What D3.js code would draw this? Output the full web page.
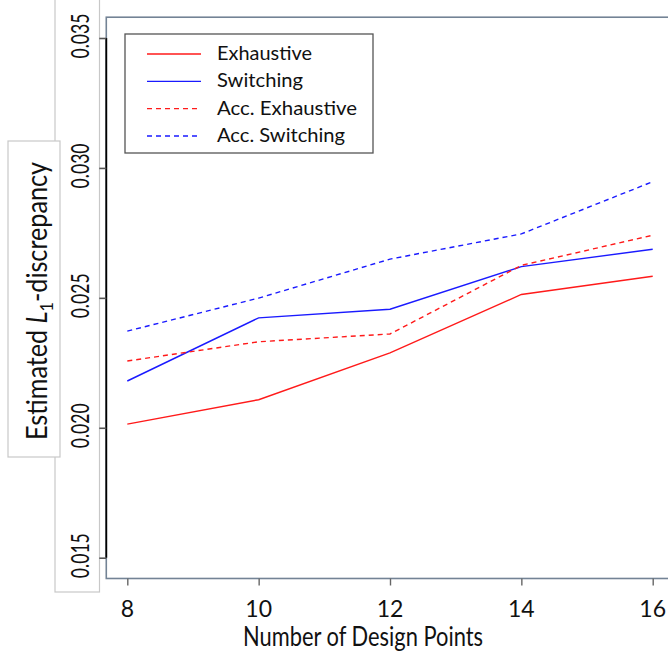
<!DOCTYPE html>
<html>
<head>
<meta charset="utf-8">
<script src="https://cdn.jsdelivr.net/npm/d3@7"></script>
<style>
  html, body { margin: 0; padding: 0; background: #fff; }
  svg { display: block; font-family: Lato, "Open Sans", sans-serif; }
</style>
</head>
<body>
<svg id="chart" width="668" height="656"></svg>
<script>
// Design-point counts on the x axis
const designPoints = [8, 10, 12, 14, 16];

// Estimated L1-discrepancy per method
const exhaustive    = [0.02014, 0.02108, 0.02288, 0.02513, 0.02583];
const switching     = [0.02180, 0.02423, 0.02456, 0.02620, 0.02687];
const accExhaustive = [0.02257, 0.02331, 0.02361, 0.02625, 0.02741];
const accSwitching  = [0.02372, 0.02499, 0.02649, 0.02746, 0.02947];

const seriesNames = ["Exhaustive", "Switching", "Acc. Exhaustive", "Acc. Switching"];
const yTicks = [0.015, 0.020, 0.025, 0.030, 0.035];
const yTickLabels = ["0.015", "0.020", "0.025", "0.030", "0.035"];
const xTickLabels = ["8", "10", "12", "14", "16"];

const seriesStyle = [
  { color: "#ff1a1a", dash: null },
  { color: "#1a1aff", dash: null },
  { color: "#ff1a1a", dash: "5,4" },
  { color: "#1a1aff", dash: "5,4" }
];
const legendWidths = [95, 86, 140, 128];

const series = [exhaustive, switching, accExhaustive, accSwitching].map((vals, i) => ({
  name: seriesNames[i],
  values: vals.map((v, j) => ({ x: designPoints[j], y: v })),
  ...seriesStyle[i]
}));

const svg = d3.select("#chart");

const x = d3.scaleLinear().domain([8, 16]).range([127.3, 652.7]);
const y = d3.scaleLinear().domain([0.015, 0.035]).range([557.7, 38]);

// Tick-label panel on the left
svg.append("rect")
  .attr("x", 55).attr("y", -10).attr("width", 44.5).attr("height", 602)
  .attr("fill", "#fff").attr("stroke", "#c8c8c8").attr("stroke-width", 1.2);

// Plot frame (padded 4% beyond the data range)
const fx0 = x(7.68), fx1 = x(16.32), fy0 = y(0.0358), fy1 = y(0.0142);
svg.append("rect")
  .attr("x", fx0).attr("y", fy0).attr("width", fx1 - fx0).attr("height", fy1 - fy0)
  .attr("fill", "none").attr("stroke", "#738395").attr("stroke-width", 1.6);

// Y axis: black spine with ticks, labels rotated
const yAxis = svg.append("g").attr("transform", `translate(${fx0},0)`)
  .call(d3.axisLeft(y).tickValues(yTicks).tickSize(7).tickFormat(""));
yAxis.select(".domain").attr("d", `M0,${y(0.035)}V${y(0.015)}`)
  .attr("stroke", "#000").attr("stroke-width", 1.8);
yAxis.selectAll(".tick line").attr("stroke", "#555").attr("stroke-width", 1.6);

svg.append("g").selectAll("text")
  .data(yTicks)
  .join("text")
  .attr("transform", (d) => `translate(89,${y(d) - 2}) rotate(-90)`)
  .attr("text-anchor", "middle")
  .attr("font-size", 25)
  .attr("textLength", 45)
  .attr("lengthAdjust", "spacingAndGlyphs")
  .attr("fill", "#111")
  .text((d, i) => yTickLabels[i]);

// X axis ticks and labels
const xAxis = svg.append("g").attr("transform", `translate(0,${fy1})`)
  .call(d3.axisBottom(x).tickValues(designPoints).tickSize(7).tickFormat(""));
xAxis.select(".domain").remove();
xAxis.selectAll(".tick line").attr("stroke", "#666").attr("stroke-width", 1.4);

svg.append("g").selectAll("text")
  .data(designPoints)
  .join("text")
  .attr("x", (d) => x(d))
  .attr("y", 617)
  .attr("text-anchor", "middle")
  .attr("font-size", 23)
  .attr("fill", "#111")
  .text((d, i) => xTickLabels[i]);

svg.append("text")
  .attr("x", 363).attr("y", 646)
  .attr("text-anchor", "middle")
  .attr("font-size", 26)
  .attr("textLength", 240)
  .attr("lengthAdjust", "spacingAndGlyphs")
  .attr("fill", "#111")
  .text("Number of Design Points");

// Y axis title panel
svg.append("rect")
  .attr("x", 8).attr("y", 141).attr("width", 52).attr("height", 316)
  .attr("fill", "#fff").attr("stroke", "#c8c8c8").attr("stroke-width", 1.2);

const yTitle = svg.append("text")
  .attr("transform", "translate(47,301) rotate(-90)")
  .attr("text-anchor", "middle")
  .attr("font-size", 28)
  .attr("textLength", 278)
  .attr("lengthAdjust", "spacingAndGlyphs")
  .attr("fill", "#111");
yTitle.append("tspan").text("Estimated ");
yTitle.append("tspan").attr("font-style", "italic").text("L");
yTitle.append("tspan").attr("font-size", 18).attr("dy", 6).text("1");
yTitle.append("tspan").attr("dy", -6).text("-discrepancy");

// Series lines
const line = d3.line().x((d) => x(d.x)).y((d) => y(d.y));
svg.append("g").selectAll("path")
  .data(series)
  .join("path")
  .attr("d", (d) => line(d.values))
  .attr("fill", "none")
  .attr("stroke", (d) => d.color)
  .attr("stroke-width", 1.4)
  .attr("stroke-dasharray", (d) => d.dash);

// Legend
const legend = svg.append("g");
legend.append("rect")
  .attr("x", 125).attr("y", 34).attr("width", 248).attr("height", 119)
  .attr("fill", "#fff").attr("stroke", "#555").attr("stroke-width", 1.3);

const ly = d3.scalePoint().domain(seriesNames).range([54, 136]);
const items = legend.selectAll("g.item").data(series).join("g").attr("class", "item");
items.append("line")
  .attr("x1", 147).attr("x2", 201)
  .attr("y1", (d) => ly(d.name)).attr("y2", (d) => ly(d.name))
  .attr("stroke", (d) => d.color)
  .attr("stroke-width", 1.4)
  .attr("stroke-dasharray", (d) => d.dash);
items.append("text")
  .attr("x", 217)
  .attr("y", (d) => ly(d.name) + 6)
  .attr("font-size", 20)
  .attr("textLength", (d, i) => legendWidths[i])
  .attr("lengthAdjust", "spacingAndGlyphs")
  .attr("fill", "#111")
  .text((d) => d.name);
</script>
</body>
</html>
